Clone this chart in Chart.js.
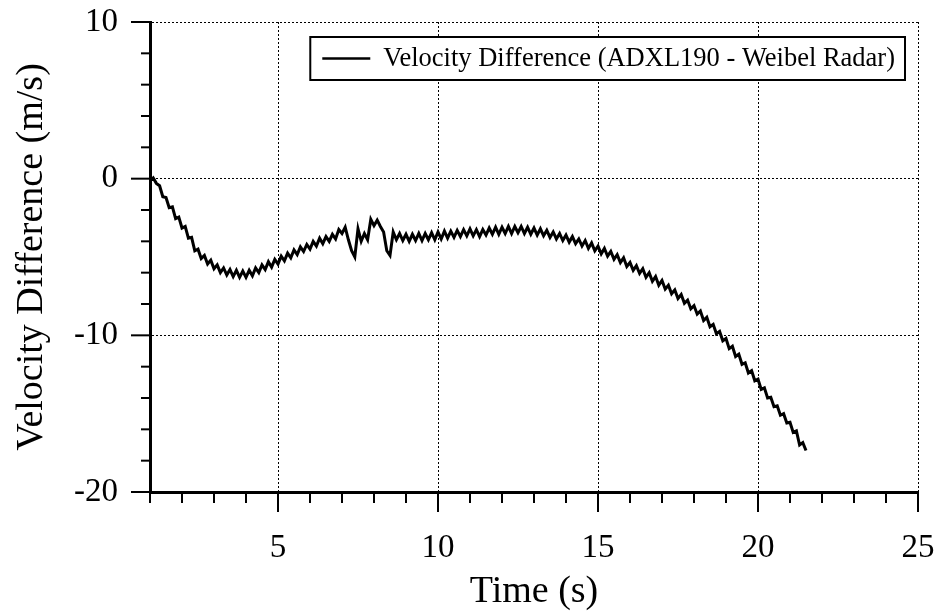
<!DOCTYPE html>
<html>
<head>
<meta charset="utf-8">
<title>Velocity Difference</title>
<script src="https://cdn.jsdelivr.net/npm/chart.js@4.4.1/dist/chart.umd.min.js"></script>
<style>
  body { margin: 0; background: #fff; }
  canvas { display: block; }
</style>
</head>
<body>
<canvas id="velocityChart" width="940" height="613"></canvas>
<script>
// Tijd (s) en snelheidsverschil (m/s)
const timeSeconds = [
  1.0, 1.1, 1.2, 1.3, 1.4, 1.5, 1.6, 1.7, 1.8, 1.9,
  2.0, 2.1, 2.2, 2.3, 2.4, 2.5, 2.6, 2.7, 2.8, 2.9,
  3.0, 3.1, 3.2, 3.3, 3.4, 3.5, 3.6, 3.7, 3.8, 3.9,
  4.0, 4.1, 4.2, 4.3, 4.4, 4.5, 4.6, 4.7, 4.8, 4.9,
  5.0, 5.1, 5.2, 5.3, 5.4, 5.5, 5.6, 5.7, 5.8, 5.9,
  6.0, 6.1, 6.2, 6.3, 6.4, 6.5, 6.6, 6.7, 6.8, 6.9,
  7.0, 7.1, 7.2, 7.3, 7.4, 7.5, 7.6, 7.7, 7.8, 7.9,
  8.0, 8.1, 8.2, 8.3, 8.4, 8.5, 8.6, 8.7, 8.8, 8.9,
  9.0, 9.1, 9.2, 9.3, 9.4, 9.5, 9.6, 9.7, 9.8, 9.9,
  10.0, 10.1, 10.2, 10.3, 10.4, 10.5, 10.6, 10.7, 10.8, 10.9,
  11.0, 11.1, 11.2, 11.3, 11.4, 11.5, 11.6, 11.7, 11.8, 11.9,
  12.0, 12.1, 12.2, 12.3, 12.4, 12.5, 12.6, 12.7, 12.8, 12.9,
  13.0, 13.1, 13.2, 13.3, 13.4, 13.5, 13.6, 13.7, 13.8, 13.9,
  14.0, 14.1, 14.2, 14.3, 14.4, 14.5, 14.6, 14.7, 14.8, 14.9,
  15.0, 15.1, 15.2, 15.3, 15.4, 15.5, 15.6, 15.7, 15.8, 15.9,
  16.0, 16.1, 16.2, 16.3, 16.4, 16.5, 16.6, 16.7, 16.8, 16.9,
  17.0, 17.1, 17.2, 17.3, 17.4, 17.5, 17.6, 17.7, 17.8, 17.9,
  18.0, 18.1, 18.2, 18.3, 18.4, 18.5, 18.6, 18.7, 18.8, 18.9,
  19.0, 19.1, 19.2, 19.3, 19.4, 19.5, 19.6, 19.7, 19.8, 19.9,
  20.0, 20.1, 20.2, 20.3, 20.4, 20.5, 20.6, 20.7, 20.8, 20.9,
  21.0, 21.1, 21.2, 21.3, 21.4, 21.5
];

const velocityDiff = [
  -0.15, 0.05, -0.3, -0.45, -1.15, -1.2, -1.85, -1.8, -2.55, -2.45,
  -3.15, -3.05, -3.8, -3.75, -4.6, -4.5, -5.1, -4.9, -5.45, -5.2,
  -5.75, -5.5, -6.0, -5.7, -6.15, -5.8, -6.25, -5.85, -6.3, -5.9,
  -6.3, -5.85, -6.2, -5.7, -6.0, -5.5, -5.8, -5.3, -5.65, -5.15,
  -5.45, -4.95, -5.25, -4.75, -5.05, -4.55, -4.85, -4.35, -4.65, -4.2,
  -4.5, -4.0, -4.3, -3.8, -4.15, -3.7, -4.0, -3.55, -3.85, -3.25,
  -3.5, -3.1, -3.9, -4.6, -5.0, -3.2, -4.0, -3.5, -3.9, -2.6,
  -3.0, -2.65, -3.05, -3.4, -4.6, -4.9, -3.4, -3.9, -3.5, -3.95,
  -3.55, -4.0, -3.55, -3.95, -3.5, -3.95, -3.5, -3.9, -3.45, -3.9,
  -3.4, -3.85, -3.35, -3.8, -3.35, -3.75, -3.3, -3.7, -3.25, -3.65,
  -3.2, -3.65, -3.25, -3.7, -3.25, -3.6, -3.15, -3.55, -3.1, -3.55,
  -3.1, -3.5, -3.05, -3.5, -3.05, -3.45, -3.05, -3.5, -3.1, -3.55,
  -3.15, -3.6, -3.2, -3.65, -3.3, -3.75, -3.4, -3.85, -3.5, -3.95,
  -3.6, -4.05, -3.7, -4.15, -3.85, -4.3, -3.95, -4.45, -4.1, -4.6,
  -4.3, -4.8, -4.45, -4.95, -4.65, -5.15, -4.85, -5.35, -5.05, -5.6,
  -5.35, -5.85, -5.55, -6.05, -5.75, -6.3, -6.0, -6.55, -6.25, -6.8,
  -6.5, -7.05, -6.8, -7.35, -7.1, -7.65, -7.4, -7.95, -7.75, -8.3,
  -8.1, -8.65, -8.45, -9.05, -8.85, -9.45, -9.3, -9.9, -9.75, -10.35,
  -10.2, -10.85, -10.7, -11.35, -11.2, -11.85, -11.75, -12.4, -12.25, -12.9,
  -12.8, -13.45, -13.35, -14.0, -13.95, -14.55, -14.5, -15.1, -15.0, -15.6,
  -15.55, -16.2, -16.1, -17.0, -16.85, -17.35
];

const seriesLabel = 'Velocity Difference (ADXL190 - Weibel Radar)';
const xMajorTicks = [5, 10, 15, 20, 25];
const yMajorTicks = [-20, -10, 0, 10];

const serif = '"Liberation Serif", "Times New Roman", serif';

// Korte en lange streepjes langs de assen (buitenkant)
const tickMarks = {
  id: 'tickMarks',
  afterDraw(chart) {
    const { ctx, chartArea, scales: { x, y } } = chart;
    ctx.save();
    ctx.strokeStyle = '#000';
    ctx.lineWidth = 2;
    x.ticks.forEach(t => {
      const px = x.getPixelForValue(t.value);
      const len = xMajorTicks.includes(t.value) ? 20 : 11;
      ctx.beginPath();
      ctx.moveTo(px, chartArea.bottom);
      ctx.lineTo(px, chartArea.bottom + len);
      ctx.stroke();
    });
    y.ticks.forEach(t => {
      const py = y.getPixelForValue(t.value);
      const len = yMajorTicks.includes(t.value) ? 19 : 9;
      ctx.beginPath();
      ctx.moveTo(chartArea.left, py);
      ctx.lineTo(chartArea.left - len, py);
      ctx.stroke();
    });
    ctx.restore();
  }
};

// Legenda in een kader rechtsboven in het plotvlak
const insideLegend = {
  id: 'insideLegend',
  afterDatasetsDraw(chart) {
    const { ctx, chartArea } = chart;
    const ds = chart.data.datasets[0];
    ctx.save();
    ctx.font = '26.5px ' + serif;
    const tw = ctx.measureText(ds.label).width;
    const h = 43;
    const right = chartArea.right - 13;
    const left = right - (12 + 48 + 13 + tw + 10);
    const top = chartArea.top + 15;
    ctx.fillStyle = '#fff';
    ctx.fillRect(left, top, right - left, h);
    ctx.strokeStyle = '#000';
    ctx.lineWidth = 2;
    ctx.strokeRect(left, top, right - left, h);
    ctx.lineWidth = 2.5;
    ctx.beginPath();
    ctx.moveTo(left + 12, top + h / 2);
    ctx.lineTo(left + 60, top + h / 2);
    ctx.stroke();
    ctx.fillStyle = '#000';
    ctx.textBaseline = 'middle';
    ctx.textAlign = 'left';
    ctx.fillText(ds.label, left + 73, top + h / 2 + 1);
    ctx.restore();
  }
};

const ctx = document.getElementById('velocityChart').getContext('2d');

new Chart(ctx, {
  type: 'line',
  data: {
    datasets: [{
      label: seriesLabel,
      data: timeSeconds.map((t, i) => ({ x: t, y: velocityDiff[i] })),
      borderColor: '#000',
      borderWidth: 3,
      pointRadius: 0,
      tension: 0,
      fill: false
    }]
  },
  options: {
    responsive: false,
    animation: false,
    devicePixelRatio: 1,
    layout: {
      padding: { left: 0, right: 22, top: 22, bottom: 0 }
    },
    plugins: {
      legend: { display: false },
      tooltip: { enabled: false }
    },
    scales: {
      x: {
        type: 'linear',
        min: 1,
        max: 25,
        afterFit: scale => { scale.height = 121; },
        ticks: {
          stepSize: 1,
          autoSkip: false,
          maxRotation: 0,
          padding: 0,
          color: '#000',
          font: { family: serif, size: 33 },
          callback: v => xMajorTicks.includes(v) ? String(v) : ''
        },
        grid: {
          drawTicks: true,
          tickLength: 37,
          tickColor: 'rgba(0,0,0,0)',
          lineWidth: 1,
          color: c => (c.tick && xMajorTicks.includes(c.tick.value)) ? '#000' : 'rgba(0,0,0,0)'
        },
        border: { display: true, color: '#000', width: 3, dash: [2, 2] },
        title: {
          display: true,
          text: 'Time (s)',
          color: '#000',
          font: { family: serif, size: 38, lineHeight: 1 },
          padding: { top: 0, bottom: 2 }
        }
      },
      y: {
        min: -20,
        max: 10,
        afterFit: scale => { scale.width = 150; },
        ticks: {
          stepSize: 2,
          autoSkip: false,
          padding: 0,
          color: '#000',
          font: { family: serif, size: 33 },
          callback: v => yMajorTicks.includes(v) ? String(v) : ''
        },
        grid: {
          drawTicks: true,
          tickLength: 32,
          tickColor: 'rgba(0,0,0,0)',
          lineWidth: 1,
          color: c => (c.tick && yMajorTicks.includes(c.tick.value)) ? '#000' : 'rgba(0,0,0,0)'
        },
        border: { display: true, color: '#000', width: 3, dash: [2, 2] },
        title: {
          display: true,
          text: 'Velocity Difference (m/s)',
          color: '#000',
          font: { family: serif, size: 38, lineHeight: 1 },
          padding: { top: 13, bottom: 0 }
        }
      }
    }
  },
  plugins: [tickMarks, insideLegend]
});
</script>
</body>
</html>
